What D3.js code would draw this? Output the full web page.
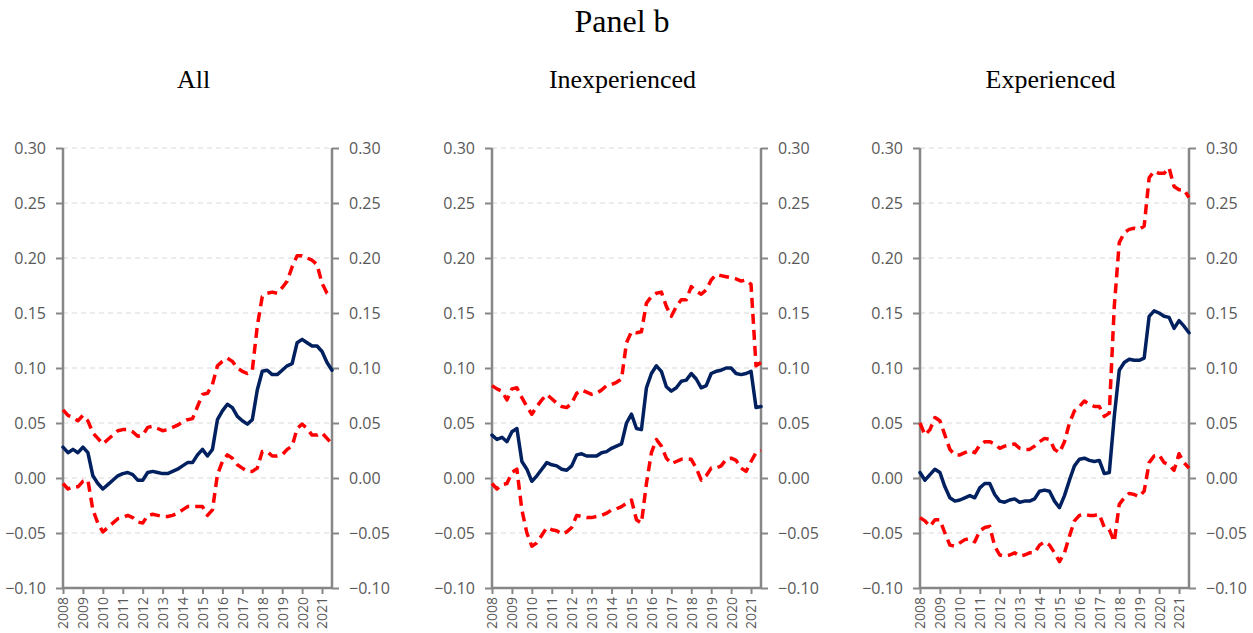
<!DOCTYPE html>
<html>
<head>
<meta charset="utf-8">
<script src="https://d3js.org/d3.v7.min.js"></script>
<style>
  body { margin: 0; background: #fff; }
  svg { display: block; }
</style>
</head>
<body>
<svg id="chart" width="1253" height="633"></svg>
<script>
// quarterly points, 2008Q1 .. 2021Q3
var years = ["2008","2009","2010","2011","2012","2013","2014","2015","2016","2017","2018","2019","2020","2021"];
var yTicks = [-0.10, -0.05, 0.00, 0.05, 0.10, 0.15, 0.20, 0.25, 0.30];
var panelTitles = ["All", "Inexperienced", "Experienced"];

var allMean = [0.028,0.023,0.026,0.023,0.028,0.023,0.002,-0.005,-0.010,-0.006,
  -0.002,0.002,0.004,0.005,0.003,-0.002,-0.002,0.005,0.006,0.005,
  0.004,0.004,0.006,0.008,0.011,0.014,0.014,0.021,0.026,0.020,
  0.026,0.053,0.061,0.067,0.064,0.056,0.052,0.049,0.053,0.080,
  0.097,0.098,0.094,0.094,0.098,0.102,0.104,0.123,0.126,0.123,
  0.120,0.120,0.115,0.105,0.098];
var allUpper = [0.062,0.057,0.055,0.052,0.057,0.052,0.041,0.036,0.031,0.035,
  0.039,0.043,0.044,0.044,0.042,0.038,0.039,0.046,0.047,0.045,
  0.043,0.044,0.046,0.048,0.051,0.053,0.054,0.065,0.076,0.077,
  0.085,0.102,0.106,0.109,0.106,0.100,0.097,0.095,0.098,0.138,
  0.165,0.168,0.169,0.168,0.173,0.179,0.192,0.202,0.202,0.200,
  0.198,0.194,0.177,0.168,0.165];
var allLower = [-0.005,-0.010,-0.008,-0.008,-0.003,-0.002,-0.029,-0.041,-0.049,-0.045,
  -0.041,-0.037,-0.036,-0.034,-0.036,-0.040,-0.041,-0.034,-0.033,-0.034,
  -0.035,-0.035,-0.034,-0.032,-0.029,-0.026,-0.026,-0.026,-0.026,-0.034,
  -0.029,0.003,0.015,0.021,0.018,0.012,0.009,0.006,0.006,0.009,
  0.024,0.024,0.020,0.020,0.021,0.026,0.029,0.045,0.049,0.045,
  0.039,0.039,0.041,0.036,0.031];

var inexpMean = [0.039,0.035,0.037,0.033,0.042,0.045,0.015,0.008,-0.003,0.002,
  0.008,0.014,0.012,0.011,0.008,0.007,0.011,0.021,0.022,0.020,
  0.020,0.020,0.023,0.024,0.027,0.029,0.031,0.050,0.058,0.045,
  0.044,0.082,0.095,0.102,0.097,0.083,0.079,0.082,0.088,0.089,
  0.095,0.090,0.082,0.084,0.095,0.097,0.098,0.100,0.100,0.095,
  0.094,0.095,0.097,0.064,0.065];
var inexpUpper = [0.084,0.081,0.079,0.071,0.081,0.082,0.073,0.065,0.058,0.065,
  0.071,0.076,0.072,0.068,0.065,0.064,0.068,0.077,0.080,0.078,
  0.076,0.077,0.080,0.084,0.085,0.087,0.090,0.123,0.133,0.132,
  0.133,0.159,0.165,0.168,0.169,0.156,0.147,0.156,0.162,0.162,
  0.174,0.170,0.167,0.171,0.180,0.185,0.184,0.183,0.182,0.181,
  0.179,0.180,0.176,0.102,0.105];
var inexpLower = [-0.005,-0.010,-0.006,-0.005,0.005,0.008,-0.029,-0.050,-0.062,-0.059,
  -0.052,-0.045,-0.047,-0.048,-0.051,-0.049,-0.045,-0.034,-0.035,-0.036,
  -0.036,-0.035,-0.034,-0.032,-0.029,-0.028,-0.026,-0.023,-0.020,-0.038,
  -0.041,-0.005,0.023,0.035,0.029,0.018,0.013,0.015,0.017,0.017,
  0.017,0.009,-0.002,0.002,0.009,0.009,0.011,0.017,0.018,0.016,
  0.009,0.006,0.015,0.023,0.025];

var expMean = [0.005,-0.002,0.003,0.008,0.005,-0.008,-0.018,-0.021,-0.020,-0.018,
  -0.016,-0.018,-0.009,-0.005,-0.005,-0.015,-0.021,-0.022,-0.020,-0.019,
  -0.022,-0.021,-0.021,-0.019,-0.012,-0.011,-0.012,-0.021,-0.027,-0.016,
  -0.002,0.011,0.017,0.018,0.016,0.015,0.016,0.004,0.005,0.056,
  0.098,0.105,0.108,0.107,0.107,0.109,0.147,0.152,0.150,0.147,
  0.146,0.136,0.143,0.138,0.132];
var expUpper = [0.050,0.039,0.044,0.055,0.052,0.039,0.026,0.021,0.021,0.023,
  0.025,0.023,0.030,0.033,0.033,0.031,0.027,0.029,0.030,0.031,
  0.027,0.026,0.026,0.029,0.033,0.036,0.035,0.026,0.023,0.033,
  0.050,0.061,0.065,0.070,0.067,0.065,0.065,0.056,0.059,0.156,
  0.214,0.223,0.226,0.227,0.226,0.229,0.273,0.279,0.277,0.277,
  0.282,0.265,0.262,0.262,0.255];
var expLower = [-0.036,-0.039,-0.044,-0.038,-0.038,-0.050,-0.061,-0.062,-0.059,-0.056,
  -0.055,-0.058,-0.048,-0.045,-0.044,-0.062,-0.070,-0.071,-0.070,-0.068,
  -0.071,-0.070,-0.068,-0.068,-0.061,-0.058,-0.061,-0.068,-0.076,-0.068,
  -0.053,-0.039,-0.034,-0.033,-0.034,-0.034,-0.033,-0.045,-0.047,-0.058,
  -0.024,-0.018,-0.014,-0.015,-0.017,-0.012,0.014,0.020,0.021,0.014,
  0.012,0.007,0.022,0.014,0.009];

var panels = [
  { title: panelTitles[0], mean: allMean, upper: allUpper, lower: allLower, left: 63 },
  { title: panelTitles[1], mean: inexpMean, upper: inexpUpper, lower: inexpLower, left: 492 },
  { title: panelTitles[2], mean: expMean, upper: expUpper, lower: expLower, left: 920 }
];

var plotTop = 148, plotBottom = 588, pw = 269;
var axisColor = "#878787", textColor = "#595959";

var svg = d3.select("#chart");

svg.append("text")
  .attr("x", 622).attr("y", 32)
  .attr("text-anchor", "middle")
  .attr("font-family", "'Liberation Serif', 'Times New Roman', serif")
  .attr("font-size", "32px")
  .attr("fill", "#000")
  .text("Panel b");

var y = d3.scaleLinear().domain([-0.10, 0.30]).range([plotBottom, plotTop]);

panels.forEach(function (p) {
  var n = p.mean.length;
  var x = d3.scaleLinear().domain([0, n - 1]).range([p.left, p.left + pw]);
  var g = svg.append("g");

  g.append("text")
    .attr("x", p.left + pw / 2 - 4).attr("y", 88)
    .attr("text-anchor", "middle")
    .attr("font-family", "'Liberation Serif', 'Times New Roman', serif")
    .attr("font-size", "26px")
    .attr("fill", "#000")
    .text(p.title);

  // gridlines
  g.selectAll(".grid")
    .data(yTicks.filter(function (d) { return d > -0.10; }))
    .enter().append("line")
    .attr("x1", p.left).attr("x2", p.left + pw)
    .attr("y1", function (d) { return y(d); })
    .attr("y2", function (d) { return y(d); })
    .attr("stroke", "#d9d9d9")
    .attr("stroke-width", 1)
    .attr("stroke-dasharray", "5,4");

  var fmt = d3.format(".2f");
  var yl = g.append("g").attr("transform", "translate(" + p.left + ",0)")
    .call(d3.axisLeft(y).tickValues(yTicks).tickFormat(fmt).tickSize(7).tickPadding(10));
  var yr = g.append("g").attr("transform", "translate(" + (p.left + pw) + ",0)")
    .call(d3.axisRight(y).tickValues(yTicks).tickFormat(fmt).tickSize(7).tickPadding(10));

  var tickIdx = years.map(function (d, i) { return i * 4; });
  var xa = g.append("g").attr("transform", "translate(0," + plotBottom + ")")
    .call(d3.axisBottom(x).tickValues(tickIdx)
      .tickFormat(function (d) { return years[d / 4]; })
      .tickSize(6).tickPadding(4));
  xa.selectAll("text")
    .attr("transform", "rotate(-90)")
    .attr("text-anchor", "end")
    .attr("dy", "0.35em")
    .attr("x", -9).attr("y", 0)
    .attr("font-size", "14px");

  [yl, yr, xa].forEach(function (a) {
    a.select(".domain").attr("stroke", axisColor).attr("stroke-width", 2.5);
    a.selectAll(".tick line").attr("stroke", axisColor).attr("stroke-width", 2);
    a.selectAll("text").attr("fill", textColor)
      .attr("font-family", "'Open Sans', 'Liberation Sans', sans-serif");
  });
  yl.selectAll("text").attr("font-size", "16px");
  yr.selectAll("text").attr("font-size", "16px");
  [yl, yr].forEach(function (a) {
    a.select(".domain").attr("d", "M0," + plotTop + "V" + plotBottom);
  });
  xa.select(".domain").attr("d", "M" + p.left + ",0H" + (p.left + pw));

  var line = d3.line()
    .x(function (d, i) { return x(i); })
    .y(function (d) { return y(d); });

  [p.upper, p.lower].forEach(function (s) {
    g.append("path")
      .datum(s)
      .attr("d", line)
      .attr("fill", "none")
      .attr("stroke", "#ff0000")
      .attr("stroke-width", 3.5)
      .attr("stroke-dasharray", "10,6")
      .attr("stroke-linejoin", "round");
  });

  g.append("path")
    .datum(p.mean)
    .attr("d", line)
    .attr("fill", "none")
    .attr("stroke", "#002060")
    .attr("stroke-width", 3.5)
    .attr("stroke-linejoin", "round")
    .attr("stroke-linecap", "round");
});
</script>
</body>
</html>
